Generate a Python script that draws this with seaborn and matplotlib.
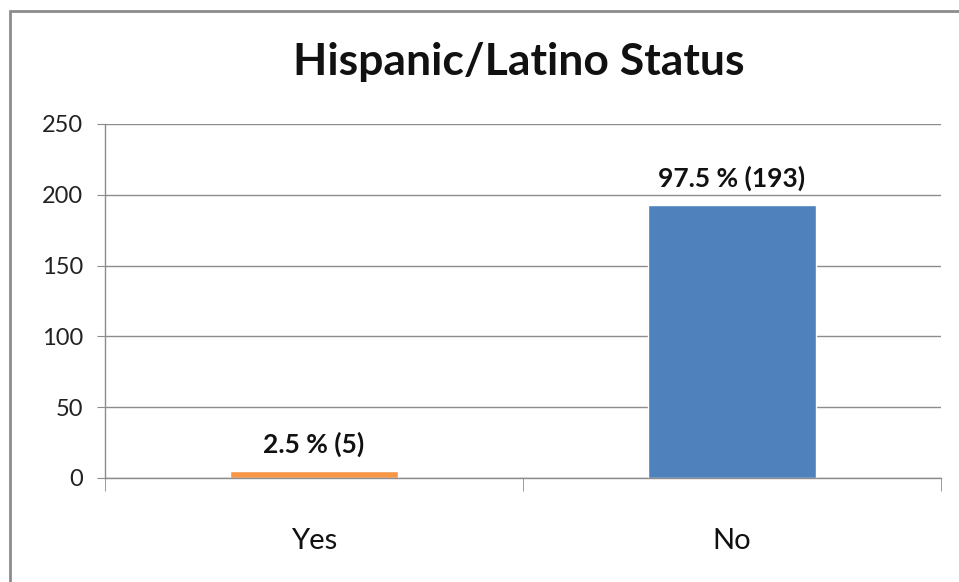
import matplotlib
matplotlib.use("Agg")
import matplotlib.pyplot as plt
from matplotlib.patches import Rectangle
import seaborn as sns
import pandas as pd

# Chart data
categories = ["Yes", "No"]
counts = [5, 193]
labels = ["2.5 % (5)", "97.5 % (193)"]
colors = ["#F79646", "#4F81BD"]
y_ticks = [0, 50, 100, 150, 200, 250]

sns.set_style("white")
plt.rcParams["font.family"] = ["Lato", "DejaVu Sans"]

df = pd.DataFrame({"category": categories, "count": counts})

fig = plt.figure(figsize=(9.59, 5.82), dpi=100)
ax = fig.add_axes([105 / 959, 1 - 478 / 582, (941 - 105) / 959, (478 - 124) / 582])

sns.barplot(data=df, x="category", y="count", hue="category",
            palette=colors, width=0.4, legend=False, ax=ax, saturation=1)

# value labels above bars
for cont, lab in zip(ax.containers, labels):
    ax.bar_label(cont, labels=[lab], padding=10, fontsize=19,
                 fontweight="bold", color="#111111")

ax.set_ylim(0, 250)
ax.set_xlim(-0.5, 1.5)
ax.set_yticks(y_ticks)
ax.yaxis.grid(True, color="#8c8c8c", linewidth=1)
ax.set_axisbelow(True)
ax.set_xlabel("")
ax.set_ylabel("")

for side in ["top", "right"]:
    ax.spines[side].set_visible(False)
for side in ["left", "bottom"]:
    ax.spines[side].set_color("#8c8c8c")
    ax.spines[side].set_linewidth(1)

ax.tick_params(axis="y", length=6, color="#8c8c8c", labelsize=17,
               labelcolor="#222222", pad=10, left=True)
ax.tick_params(axis="x", which="major", length=0, labelsize=21,
               labelcolor="#111111", pad=36)
ax.set_xticks([-0.5, 0.5, 1.5], minor=True)
ax.tick_params(axis="x", which="minor", length=9, color="#8c8c8c", bottom=True)

fig.text(519 / 959, 1 - 62 / 582, "Hispanic/Latino Status", ha="center",
         va="center", fontsize=32, fontweight="bold", color="#111111")

# outer chart frame (right/bottom edges are cut off in the reference)
fig.patches.append(Rectangle((10 / 959, -0.1), 2, 1.1 - 11 / 582,
                             transform=fig.transFigure, fill=False,
                             edgecolor="#8c8c8c", linewidth=2, clip_on=False))

fig.savefig("out.png", dpi=100)
